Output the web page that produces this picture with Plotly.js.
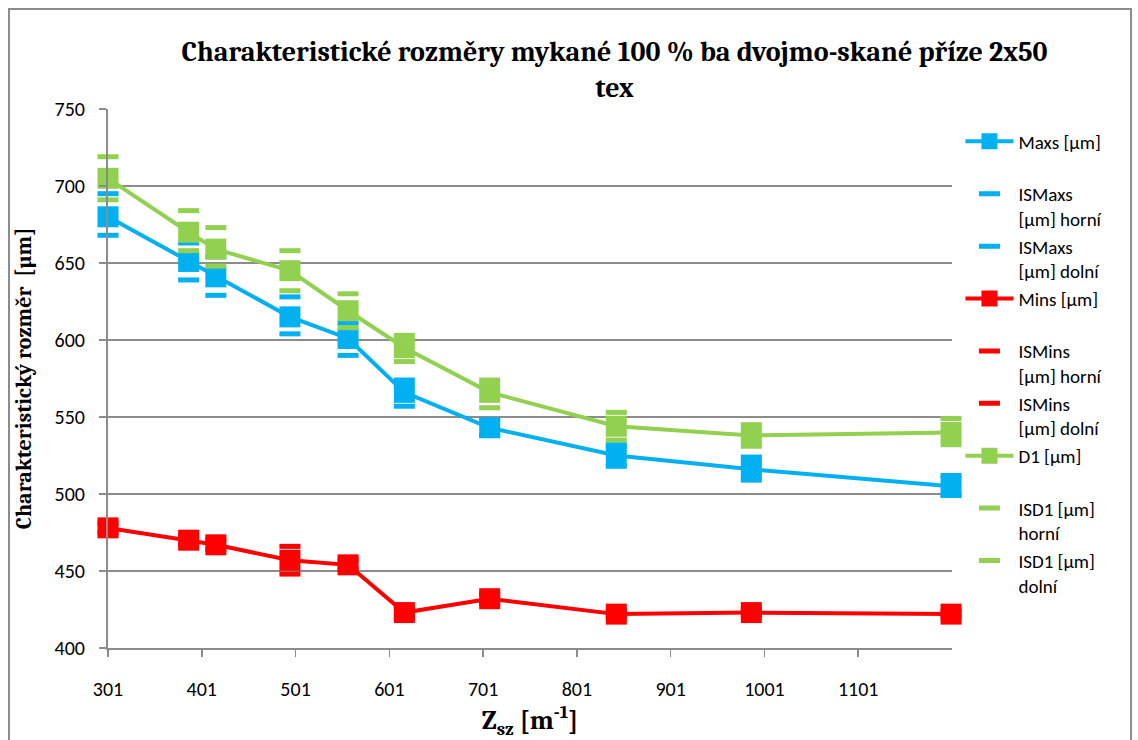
<!DOCTYPE html>
<html>
<head>
<meta charset="utf-8">
<script src="https://cdn.plot.ly/plotly-3.0.1.min.js"></script>
<style>
html,body{margin:0;padding:0;background:#fff;}
#frame{position:absolute;left:8px;top:8px;width:1124px;height:760px;border:2px solid #8c8c8c;box-sizing:border-box;}
#chart{position:absolute;left:0;top:0;width:1138px;height:740px;}
</style>
</head>
<body>
<div id="frame"></div>
<div id="chart"></div>
<script>
const zsz    = [301, 387, 416, 495, 557, 617, 708, 843, 987, 1200];
const maxs   = [680, 651, 641, 615, 601, 566, 543, 525, 516, 505];
const maxsHi = [695, 663, 654, 628, 611, 574, 548, 532, 524, 512];
const maxsLo = [668, 639, 629, 604, 590, 557, 538, 518, 509, 499];
const mins   = [478, 470, 467, 457, 454, 423, 432, 422, 423, 422];
const minsHi = [481, 473, 470, 466, 457, 426, 435, 424, 425, 424];
const minsLo = [475, 467, 464, 448, 451, 420, 429, 420, 421, 420];
const d1     = [705, 670, 659, 645, 619, 595, 566, 544, 538, 540];
const d1Hi   = [719, 684, 673, 658, 630, 603, 574, 553, 545, 549];
const d1Lo   = [691, 658, 648, 632, 608, 586, 556, 535, 531, 532];
const xTicks = [301, 401, 501, 601, 701, 801, 901, 1001, 1101];
const yTicks = [400, 450, 500, 550, 600, 650, 700, 750];

const BLUE = '#00B0F0', RED = '#FF0000', GREEN = '#92D050';

function main(name, y, color) {
  return {x: zsz, y: y, name: name, type: 'scatter', mode: 'lines+markers',
    cliponaxis: false,
    line: {color: color, width: 4},
    marker: {symbol: 'square', size: 21, color: color}};
}
function dash(name, y, color) {
  return {x: zsz, y: y, name: name, type: 'scatter', mode: 'markers',
    cliponaxis: false,
    marker: {symbol: 'line-ew', size: 15, color: color, line: {color: color, width: 5}}};
}

const traces = [
  main('Maxs [µm]<br>&nbsp;', maxs, BLUE),
  dash('ISMaxs<br>[µm] horní', maxsHi, BLUE),
  dash('ISMaxs<br>[µm] dolní', maxsLo, BLUE),
  main('Mins [µm]<br>&nbsp;', mins, RED),
  dash('ISMins<br>[µm] horní', minsHi, RED),
  dash('ISMins<br>[µm] dolní', minsLo, RED),
  main('D1 [µm]<br>&nbsp;', d1, GREEN),
  dash('ISD1 [µm]<br>horní', d1Hi, GREEN),
  dash('ISD1 [µm]<br>dolní', d1Lo, GREEN)
];

const serif = 'Cambria, Caladea, "DejaVu Serif", serif';
const sans = 'Calibri, Carlito, "Open Sans", sans-serif';

const layout = {
  width: 1138, height: 740,
  margin: {l: 108, r: 186, t: 109, b: 92},
  paper_bgcolor: 'rgba(0,0,0,0)',
  plot_bgcolor: '#fff',
  showlegend: true,
  font: {family: sans, size: 20, color: '#000'},
  title: {
    text: 'Charakteristické rozměry mykané 100 % ba dvojmo-skané příze 2x50<br>tex',
    font: {family: serif, size: 28, color: '#000', weight: 'bold'},
    xref: 'container', x: 0.54, xanchor: 'center',
    yref: 'container', y: 0.918, yanchor: 'top'
  },
  xaxis: {
    range: [301, 1201], tickvals: xTicks, ticktext: xTicks.map(String),
    showgrid: false, zeroline: false,
    showline: true, linecolor: '#8c8c8c', linewidth: 2,
    ticks: 'outside', ticklen: 7, tickwidth: 1.5, tickcolor: '#8c8c8c',
    ticklabelstandoff: 15,
    tickfont: {family: sans, size: 20},
    title: {text: 'Z<sub>sz</sub> [m<sup>-1</sup>]', standoff: 9,
      font: {family: serif, size: 27, weight: 'bold'}}
  },
  yaxis: {
    range: [400, 750], tickvals: yTicks,
    showgrid: true, gridcolor: '#8c8c8c', gridwidth: 2, zeroline: false,
    showline: true, linecolor: '#8c8c8c', linewidth: 2,
    ticks: 'outside', ticklen: 7, tickwidth: 1.5, tickcolor: '#8c8c8c',
    ticklabelstandoff: 10,
    tickfont: {family: sans, size: 20},
    title: {text: 'Charakteristický rozměr  [µm]', standoff: 17,
      font: {family: serif, size: 22, weight: 'bold'}}
  },
  legend: {
    x: 1.01, xanchor: 'left', y: 0.975, yanchor: 'top',
    valign: 'top', bgcolor: 'rgba(0,0,0,0)',
    font: {family: sans, size: 19}, tracegroupgap: 0, itemwidth: 48
  }
};

Plotly.newPlot('chart', traces, layout, {displayModeBar: false, staticPlot: true});
</script>
</body>
</html>
